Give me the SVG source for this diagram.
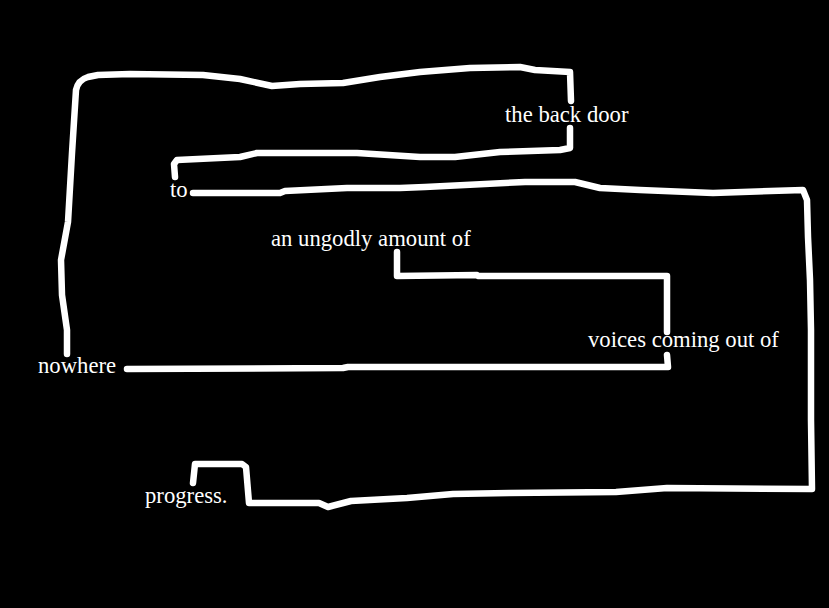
<svg xmlns="http://www.w3.org/2000/svg" width="829" height="608" viewBox="0 0 829 608">
<style>
.bg{fill:#000}
.lbl{font-family:"Liberation Serif","Times New Roman",serif;font-size:22.7px;fill:#fff}
.c{fill:none;stroke:#fff;stroke-width:6.5;stroke-linecap:round;stroke-linejoin:round}
</style>
<rect class="bg" x="0" y="0" width="829" height="608"/>
<g id="connectors">
<path class="c" d="M67,354 L67,330 L62,295 L61,260 L68,222 L72,153 L76,90 Q78,80 88,77 L98,75 L130,74 L203,75 L240,79 L272,86 L300,84 L343,83 L380,77 L420,72 L470,68 L520,67 L535,70 L570,72 L571,101"/>
<path class="c" d="M570,128 L570,148 L560,150 L500,152 L455,157 L420,157 L357,153 L257,153 L240,157 L177,160 L174,164 L175,177"/>
<path class="c" d="M193,193 L280,193 L285,191 L347,188 L400,188 L425,187 L525,182 L575,182 L600,188 L640,190 L713,193 L803,190 L807,200 L808,237 L810,280 L811,330 L811,420 L812,489 L667,488 L616,492 L509,493 L453,494 L407,498 L351,501 L328,507 L319,503 L249,503 L246,467 L242,464 L195,464 L193,483"/>
<path class="c" d="M397,252 L397,276 L477,275 L478,276 L667,276 L667,332"/>
<path class="c" d="M667,355 L668,367 L420,367 L348,367 L343,368 L127,369"/>
</g>
<g id="node-the-back-door"><text class="lbl" x="505" y="122">the back door</text></g>
<g id="node-to"><text class="lbl" x="170" y="197">to</text></g>
<g id="node-an-ungodly-amount-of"><text class="lbl" x="271" y="246">an ungodly amount of</text></g>
<g id="node-voices-coming-out-of"><text class="lbl" x="588" y="347">voices coming out of</text></g>
<g id="node-nowhere"><text class="lbl" x="38" y="373">nowhere</text></g>
<g id="node-progress"><text class="lbl" x="145" y="503">progress.</text></g>
</svg>
